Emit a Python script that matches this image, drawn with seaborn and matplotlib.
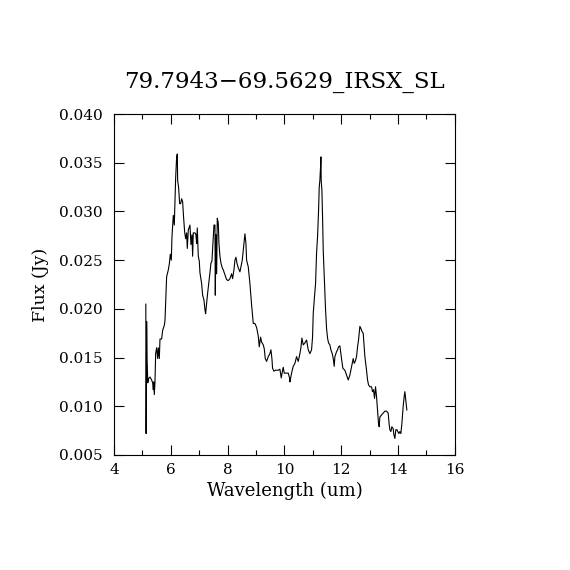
import matplotlib
matplotlib.use("Agg")
import matplotlib.pyplot as plt
import seaborn as sns
import pandas as pd
from matplotlib.ticker import MultipleLocator

wavelength = [
    5.120, 5.130, 5.149, 5.165, 5.190, 5.208, 5.267, 5.325, 5.361, 5.384, 5.400, 5.419,
    5.443, 5.466, 5.501, 5.537, 5.560, 5.595, 5.619, 5.677, 5.713, 5.771, 5.795, 5.830,
    5.853, 5.912, 5.947, 5.982, 6.017, 6.041, 6.088, 6.123, 6.170, 6.205, 6.229, 6.240,
    6.276, 6.311, 6.346, 6.381, 6.416, 6.452, 6.487, 6.522, 6.557, 6.580, 6.616, 6.651,
    6.674, 6.709, 6.745, 6.768, 6.791, 6.850, 6.885, 6.909, 6.932, 6.967, 7.002, 7.026,
    7.085, 7.120, 7.167, 7.202, 7.225, 7.261, 7.296, 7.343, 7.378, 7.413, 7.448, 7.483,
    7.519, 7.554, 7.566, 7.589, 7.613, 7.636, 7.671, 7.695, 7.730, 7.765, 7.812, 7.847,
    7.906, 7.964, 8.023, 8.082, 8.140, 8.176, 8.222, 8.258, 8.293, 8.328, 8.375, 8.434,
    8.469, 8.516, 8.551, 8.586, 8.609, 8.645, 8.668, 8.727, 8.785, 8.844, 8.903, 8.961,
    9.020, 9.079, 9.114, 9.161, 9.196, 9.255, 9.290, 9.325, 9.372, 9.430, 9.489, 9.524,
    9.559, 9.583, 9.630, 9.688, 9.782, 9.841, 9.888, 9.935, 9.958, 9.993, 10.075, 10.134,
    10.181, 10.193, 10.251, 10.310, 10.369, 10.427, 10.486, 10.545, 10.580, 10.615, 10.662,
    10.721, 10.779, 10.838, 10.897, 10.955, 10.990, 11.014, 11.049, 11.096, 11.131, 11.166,
    11.202, 11.225, 11.248, 11.272, 11.284, 11.295, 11.319, 11.342, 11.366, 11.401, 11.448,
    11.483, 11.518, 11.553, 11.600, 11.635, 11.682, 11.718, 11.753, 11.776, 11.835, 11.870,
    11.905, 11.952, 11.987, 12.023, 12.058, 12.128, 12.187, 12.245, 12.304, 12.339, 12.374,
    12.421, 12.456, 12.492, 12.539, 12.574, 12.609, 12.656, 12.691, 12.726, 12.773, 12.797,
    12.832, 12.890, 12.926, 12.961, 13.008, 13.066, 13.102, 13.137, 13.172, 13.207, 13.242,
    13.277, 13.313, 13.336, 13.360, 13.418, 13.477, 13.536, 13.594, 13.653, 13.688, 13.711,
    13.747, 13.782, 13.829, 13.852, 13.888, 13.923, 13.958, 13.993, 14.028, 14.064, 14.099,
    14.134, 14.181, 14.216, 14.240, 14.275, 14.310,
]

flux = [
    0.0205, 0.0072, 0.0187, 0.0148, 0.0124, 0.0128, 0.0130, 0.0127, 0.0124, 0.0117, 0.0125, 0.0112,
    0.0125, 0.0154, 0.0160, 0.0149, 0.0160, 0.0149, 0.0169, 0.0169, 0.0178, 0.0183, 0.0188, 0.0217,
    0.0233, 0.0240, 0.0246, 0.0256, 0.0250, 0.0274, 0.0296, 0.0286, 0.0334, 0.0356, 0.0359, 0.0332,
    0.0324, 0.0308, 0.0308, 0.0313, 0.0310, 0.0293, 0.0279, 0.0272, 0.0278, 0.0262, 0.0281, 0.0284,
    0.0286, 0.0266, 0.0276, 0.0254, 0.0278, 0.0278, 0.0276, 0.0267, 0.0283, 0.0254, 0.0249, 0.0237,
    0.0226, 0.0214, 0.0209, 0.0199, 0.0195, 0.0206, 0.0216, 0.0228, 0.0237, 0.0247, 0.0249, 0.0267,
    0.0286, 0.0286, 0.0214, 0.0276, 0.0236, 0.0293, 0.0288, 0.0267, 0.0254, 0.0247, 0.0242, 0.0240,
    0.0235, 0.0230, 0.0229, 0.0231, 0.0236, 0.0231, 0.0240, 0.0250, 0.0253, 0.0247, 0.0242, 0.0238,
    0.0243, 0.0250, 0.0260, 0.0269, 0.0277, 0.0267, 0.0250, 0.0243, 0.0226, 0.0204, 0.0185, 0.0185,
    0.0181, 0.0172, 0.0161, 0.0171, 0.0166, 0.0163, 0.0159, 0.0149, 0.0146, 0.0151, 0.0154, 0.0158,
    0.0149, 0.0139, 0.0136, 0.0137, 0.0137, 0.0138, 0.0129, 0.0137, 0.0140, 0.0134, 0.0134, 0.0134,
    0.0129, 0.0125, 0.0134, 0.0141, 0.0144, 0.0151, 0.0146, 0.0154, 0.0160, 0.0170, 0.0163,
    0.0165, 0.0168, 0.0158, 0.0154, 0.0158, 0.0171, 0.0195, 0.0209, 0.0226, 0.0257, 0.0274,
    0.0301, 0.0325, 0.0332, 0.0346, 0.0356, 0.0331, 0.0322, 0.0295, 0.0260, 0.0233, 0.0199,
    0.0180, 0.0170, 0.0165, 0.0163, 0.0158, 0.0154, 0.0149, 0.0141, 0.0151, 0.0156, 0.0158,
    0.0161, 0.0162, 0.0154, 0.0146, 0.0139, 0.0137, 0.0132, 0.0127, 0.0132, 0.0137, 0.0142,
    0.0149, 0.0144, 0.0146, 0.0151, 0.0161, 0.0168, 0.0182, 0.0180, 0.0177, 0.0175, 0.0165,
    0.0151, 0.0137, 0.0127, 0.0122, 0.0120, 0.0120, 0.0115, 0.0117, 0.0108, 0.0120, 0.0110,
    0.0096, 0.0082, 0.0079, 0.0089, 0.0091, 0.0093, 0.0095, 0.0095, 0.0093, 0.0081, 0.0076,
    0.0074, 0.0079, 0.0077, 0.0071, 0.0067, 0.0076, 0.0076, 0.0074, 0.0072, 0.0074, 0.0072,
    0.0082, 0.0100, 0.0110, 0.0115, 0.0106, 0.0096,
]

title = "79.7943\u221269.5629_IRSX_SL"
xlabel = "Wavelength (um)"
ylabel = "Flux (Jy)"
xticks = [4, 6, 8, 10, 12, 14, 16]
yticks = [0.005, 0.010, 0.015, 0.020, 0.025, 0.030, 0.035, 0.040]

sns.set_theme(style="ticks")
plt.rcParams['font.family'] = ['DejaVu Serif']

df = pd.DataFrame({"wl": wavelength, "flux": flux})

fig = plt.figure(figsize=(5.7, 5.7), dpi=100)
ax = fig.add_axes([0.2, 0.2018, 0.598, 0.5982])
sns.lineplot(data=df, x="wl", y="flux", ax=ax, color="black", linewidth=0.8,
             sort=False, estimator=None)

ax.set_xlim(4, 16)
ax.set_ylim(0.005, 0.040)
ax.set_xticks(xticks)
ax.set_xticklabels([str(t) for t in xticks])
ax.set_yticks(yticks)
ax.set_yticklabels([f"{t:.3f}" for t in yticks])
ax.xaxis.set_minor_locator(MultipleLocator(1))
ax.tick_params(which="both", direction="in", top=True, right=True, colors="black",
               labelsize=11, width=0.8)
ax.tick_params(axis="y", pad=8)
ax.tick_params(axis="x", pad=6)
ax.tick_params(which="major", length=7)
ax.tick_params(which="minor", length=3.5)
for s in ax.spines.values():
    s.set_color("black")
    s.set_linewidth(0.8)
ax.set_xlabel(xlabel, fontsize=13, color="black", labelpad=3)
ax.set_ylabel(ylabel, fontsize=12.5, color="black", labelpad=7)
ax.set_title(title, fontsize=16.5, color="black", pad=19)

fig.savefig("out.png", dpi=100, facecolor="white")
